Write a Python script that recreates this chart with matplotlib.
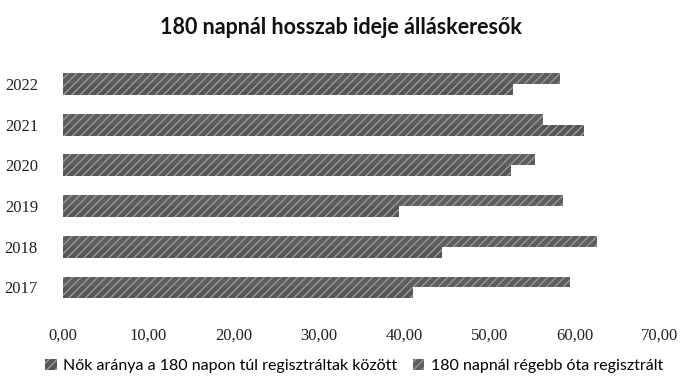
import matplotlib
matplotlib.use('Agg')
import matplotlib.pyplot as plt
import numpy as np
from matplotlib.ticker import FuncFormatter

years = ['2017', '2018', '2019', '2020', '2021', '2022']
# share of women among those registered for more than 180 days
nok_aranya = [41.1, 44.5, 39.4, 52.5, 61.1, 52.8]
# share of job seekers registered for more than 180 days
regebb_ota = [59.4, 62.6, 58.6, 55.3, 56.3, 58.3]

series_names = ['Nők aránya a 180 napon túl regisztráltak között',
                '180 napnál régebb óta regisztrált']

fig = plt.figure(figsize=(6.81, 3.81), dpi=100)
ax = fig.add_axes([0.0925, 0.192, 0.8765, 0.641])

ind = np.arange(len(years))
h = 0.27
ax.barh(ind - h/2, nok_aranya, height=h, color='#555555', edgecolor='#9a9a9a',
        hatch='////', linewidth=0, label=series_names[0])
ax.barh(ind + h/2, regebb_ota, height=h, color='#5e5e5e', edgecolor='#969696',
        hatch='////', linewidth=0, label=series_names[1])

ax.set_xlim(0, 70)
ax.set_ylim(-0.5, len(years) - 0.5)
ax.set_xticks(np.arange(0, 71, 10))
ax.xaxis.set_major_formatter(FuncFormatter(lambda v, p: ('%.2f' % v).replace('.', ',')))
ax.set_yticks(ind)
ax.set_yticklabels(years)
for lab in ax.get_xticklabels() + ax.get_yticklabels():
    lab.set_family('Liberation Serif')
    lab.set_fontsize(12)
    lab.set_color('#222222')
ax.tick_params(axis='x', length=0, pad=14)
ax.tick_params(axis='y', length=0, pad=18)
for s in ax.spines.values():
    s.set_visible(False)

fig.suptitle('180 napnál hosszab ideje álláskeresők', y=0.955, fontsize=15.5,
             fontweight='bold', family='Lato', color='#111111')
fig.legend(loc='center', bbox_to_anchor=(0.52, 0.04), ncol=2, frameon=False,
           prop={'family': 'Lato', 'size': 11.5}, handlelength=0.7, handleheight=0.7,
           columnspacing=1.0, handletextpad=0.4)

fig.savefig('out.png', dpi=100, facecolor='white')
